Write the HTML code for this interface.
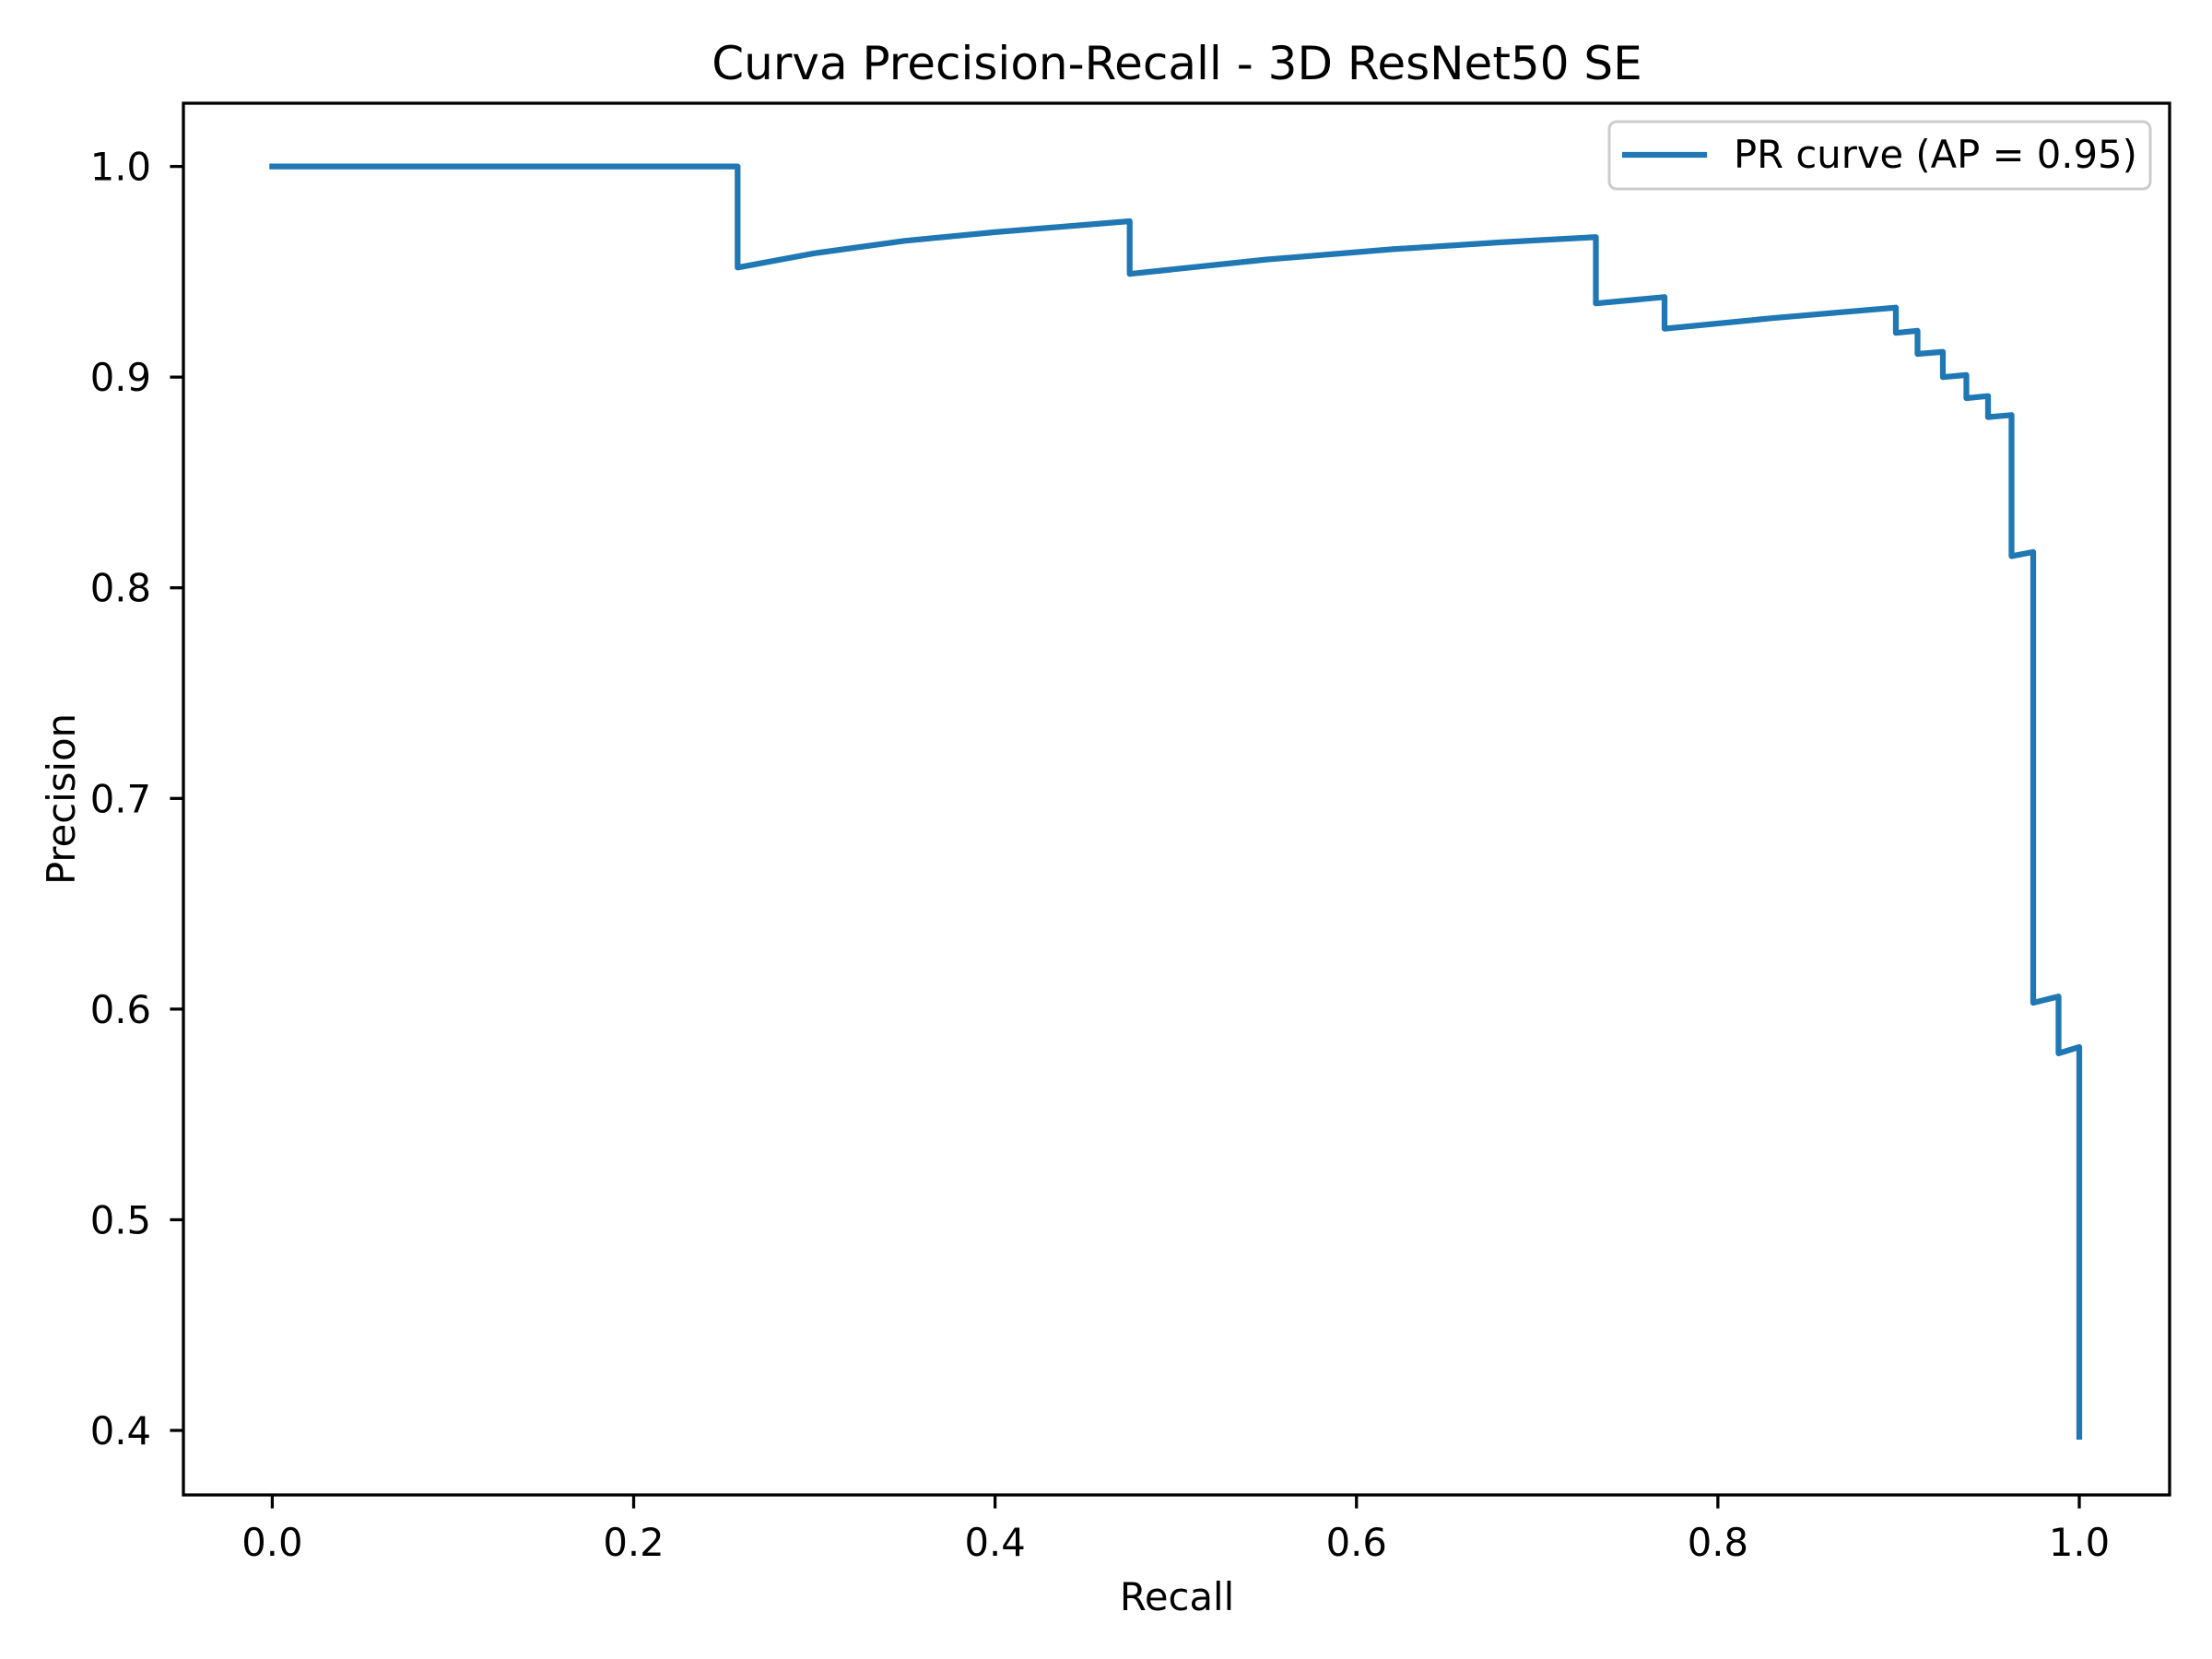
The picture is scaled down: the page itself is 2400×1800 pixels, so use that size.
<!DOCTYPE html>
<html><head><meta charset="utf-8"><style>
html,body{margin:0;padding:0;background:#fff;}
svg{display:block;font-family:"DejaVu Sans","Liberation Sans",sans-serif;}
</style></head><body>
<svg id="chart" width="2400" height="1800" viewBox="0 0 2400 1800" xmlns="http://www.w3.org/2000/svg">
<rect x="0" y="0" width="2400" height="1800" fill="#fff"/>
<text x="1277" y="86" font-size="50" text-anchor="middle" fill="#000">Curva Precision-Recall - 3D ResNet50 SE</text>
<g id="xticks"></g>
<g id="yticks"></g>
<path id="curve" fill="none" stroke="#1f77b4" stroke-width="6.25" stroke-linejoin="round" stroke-linecap="square"/>
<rect x="199" y="112" width="2155" height="1510" fill="none" stroke="#000" stroke-width="3.3"/>
<text x="1277" y="1747" font-size="41.7" text-anchor="middle">Recall</text>
<text x="0" y="0" font-size="41.7" text-anchor="middle" transform="translate(81,867) rotate(-90)">Precision</text>
<g>
<rect x="1746" y="132" width="587" height="73" rx="8" fill="#fff" stroke="#ccc" stroke-width="3"/>
<line x1="1760" y1="168" x2="1852" y2="168" stroke="#1f77b4" stroke-width="6.25"/>
<text x="1881" y="182" font-size="41.7">PR curve (AP = 0.95)</text>
</g>
</svg>
<script>
const recall = [0,0.2575,0.2575,0.3,0.35,0.4,0.4745,0.4745,0.55,0.62,0.68,0.7325,0.7325,0.7705,0.7705,0.83,0.8985,0.8985,0.9105,0.9105,0.9245,0.9245,0.9375,0.9375,0.9495,0.9495,0.9625,0.9625,0.9745,0.9745,0.9885,0.9885,1.0,1.0];
const precision = [1.0,1.0,0.952,0.9588,0.9647,0.9688,0.974,0.949,0.9558,0.9607,0.964,0.9665,0.935,0.938,0.923,0.928,0.933,0.921,0.922,0.911,0.912,0.900,0.901,0.890,0.891,0.881,0.882,0.815,0.817,0.603,0.606,0.579,0.582,0.397];
const xTicks = ["0.0","0.2","0.4","0.6","0.8","1.0"];
const yTicks = ["0.4","0.5","0.6","0.7","0.8","0.9","1.0"];
const NS="http://www.w3.org/2000/svg";
function sx(v){return 295.4+(v-0)*(2256-295.4);}
function sy(v){return 1552-(v-0.4)*(1552-180.6)/0.6;}
const xg=document.getElementById('xticks'), yg=document.getElementById('yticks');
xTicks.forEach(t=>{const v=parseFloat(t),x=sx(v);
 const l=document.createElementNS(NS,'line');l.setAttribute('x1',x);l.setAttribute('x2',x);l.setAttribute('y1',1622);l.setAttribute('y2',1636.6);l.setAttribute('stroke','#000');l.setAttribute('stroke-width','3.3');
 
 
 xg.appendChild(l);
 const tx=document.createElementNS(NS,'text');tx.setAttribute('x',x);tx.setAttribute('y',1688);tx.setAttribute('font-size','41.7');tx.setAttribute('text-anchor','middle');tx.textContent=t;
 
 
 xg.appendChild(tx);});
yTicks.forEach(t=>{const v=parseFloat(t),y=sy(v);
 const l=document.createElementNS(NS,'line');l.setAttribute('x1',184.4);l.setAttribute('x2',199);l.setAttribute('y1',y);l.setAttribute('y2',y);l.setAttribute('stroke','#000');l.setAttribute('stroke-width','3.3');
 
 
 yg.appendChild(l);
 const tx=document.createElementNS(NS,'text');tx.setAttribute('x',164);tx.setAttribute('y',y+15);tx.setAttribute('font-size','41.7');tx.setAttribute('text-anchor','end');tx.textContent=t;
 
 
 yg.appendChild(tx);});
let d='';recall.forEach((r,i)=>{d+=(i?'L':'M')+sx(r).toFixed(1)+','+sy(precision[i]).toFixed(1);});
document.getElementById('curve').setAttribute('d',d);
</script>
</body></html>
